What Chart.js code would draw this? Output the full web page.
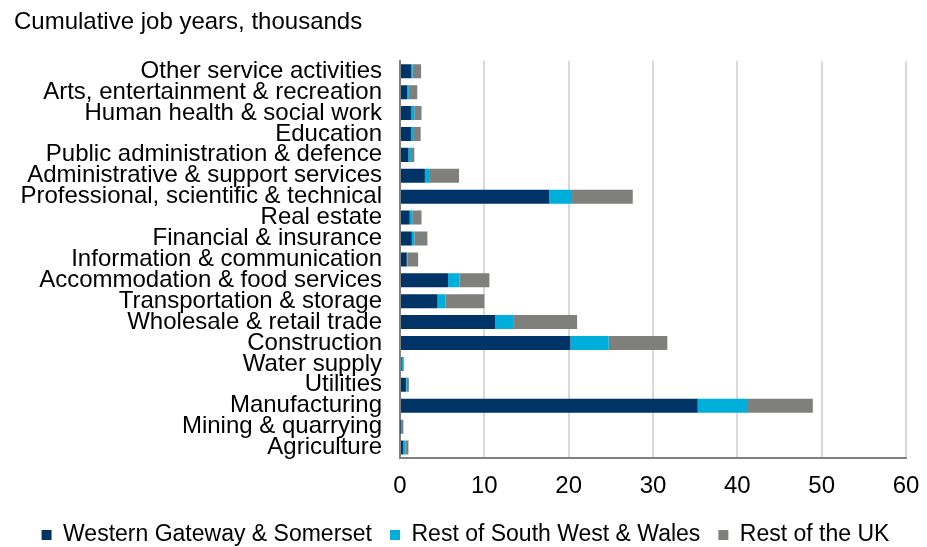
<!DOCTYPE html>
<html>
<head>
<meta charset="utf-8">
<title>Cumulative job years by sector</title>
<script src="https://cdn.jsdelivr.net/npm/chart.js@4"></script>
<style>
  html, body { margin: 0; padding: 0; background: #fff; }
  #wrap { width: 927px; height: 547px; }
</style>
</head>
<body>
<div id="wrap"><canvas id="jobsChart"></canvas></div>
<script>
// Sectors in SIC order (Agriculture first); axis is reversed so it sits at the bottom
const sectors = [
  'Agriculture',
  'Mining & quarrying',
  'Manufacturing',
  'Utilities',
  'Water supply',
  'Construction',
  'Wholesale & retail trade',
  'Transportation & storage',
  'Accommodation & food services',
  'Information & communication',
  'Financial & insurance',
  'Real estate',
  'Professional, scientific & technical',
  'Administrative & support services',
  'Public administration & defence',
  'Education',
  'Human health & social work',
  'Arts, entertainment & recreation',
  'Other service activities'
];

// Cumulative job years, thousands
const westernGateway = [0.35, 0.05, 35.3, 0.7, 0.2, 20.2, 11.3, 4.45, 5.7, 0.8, 1.4, 1.15, 17.7, 2.95, 1.0, 1.3, 1.3, 0.85, 1.3];
const restSouthWest  = [0.3, 0.05, 5.85, 0.1, 0.15, 4.55, 2.2, 0.95, 1.35, 0.1, 0.3, 0.3, 2.7, 0.6, 0.3, 0.25, 0.4, 0.2, 0.2];
const restOfUK       = [0.35, 0.3, 7.8, 0.25, 0.1, 6.95, 7.5, 4.6, 3.55, 1.25, 1.55, 1.1, 7.2, 3.45, 0.4, 0.9, 0.85, 1.0, 1.0];

const xTicks = [0, 10, 20, 30, 40, 50, 60];

const FONT = { family: '"Liberation Sans", Arial, sans-serif', size: 24 };
const LEGEND_FONT = { ...FONT, size: 23 };

// keep the legend's item gap but trim its box height
const legendHeightFix = {
  id: 'legendHeightFix',
  beforeInit(chart) {
    const fit = chart.legend.fit;
    chart.legend.fit = function () {
      fit.call(this);
      this.height = 41.5;
    };
  }
};

new Chart(document.getElementById('jobsChart'), {
  type: 'bar',
  data: {
    labels: sectors,
    datasets: [
      { label: 'Western Gateway & Somerset', data: westernGateway, backgroundColor: '#003366' },
      { label: 'Rest of South West & Wales', data: restSouthWest, backgroundColor: '#00AEDB' },
      { label: 'Rest of the UK', data: restOfUK, backgroundColor: '#7F7F7B' }
    ]
  },
  options: {
    indexAxis: 'y',
    responsive: true,
    maintainAspectRatio: false,
    animation: false,
    layout: { padding: { left: 14, right: 10, top: 0, bottom: 0 } },
    datasets: { bar: { categoryPercentage: 0.67, barPercentage: 1, borderWidth: 0 } },
    plugins: {
      title: {
        display: true,
        text: 'Cumulative job years, thousands',
        align: 'start',
        color: '#000',
        font: { ...FONT, weight: 'normal' },
        padding: { top: 8, bottom: 24 }
      },
      legend: {
        position: 'bottom',
        labels: {
          color: '#000',
          font: LEGEND_FONT,
          boxWidth: 10,
          boxHeight: 10,
          padding: 18
        }
      },
      tooltip: { enabled: false }
    },
    scales: {
      x: {
        stacked: true,
        min: 0,
        max: 60,
        afterBuildTicks(scale) {
          scale.ticks = xTicks.map(v => ({ value: v }));
        },
        afterFit(scale) {
          scale.height = 47.5;
          scale.paddingRight = 21;
        },
        grid: { color: '#D9D9D9', lineWidth: 2, drawTicks: false },
        border: { color: '#808080', width: 2 },
        ticks: { color: '#000', font: FONT, padding: 14 }
      },
      y: {
        stacked: true,
        reverse: true,
        afterFit(scale) { scale.width = 386; },
        grid: { display: false, drawTicks: false },
        border: { color: '#808080', width: 2 },
        ticks: { color: '#000', font: FONT, padding: 18, autoSkip: false }
      }
    }
  },
  plugins: [legendHeightFix]
});
</script>
</body>
</html>
